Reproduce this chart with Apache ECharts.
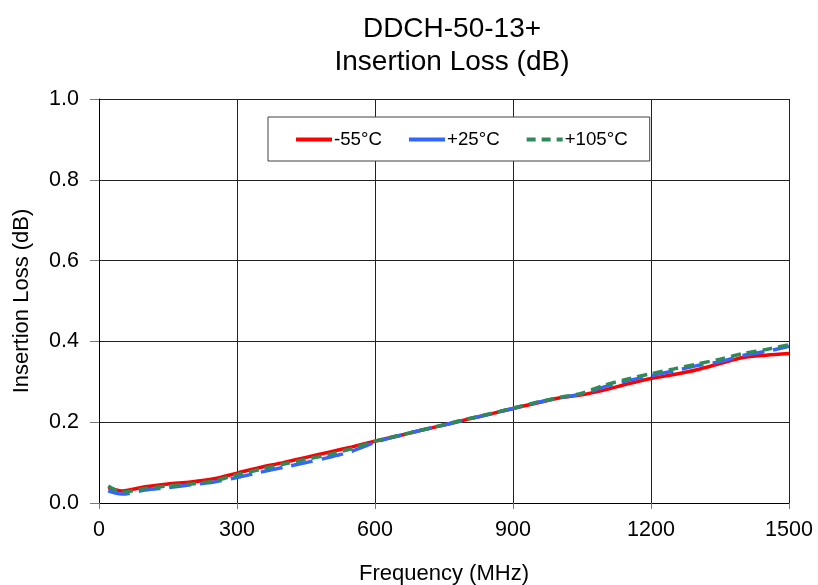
<!DOCTYPE html>
<html><head><meta charset="utf-8">
<script src="https://cdn.jsdelivr.net/npm/echarts@6/dist/echarts.min.js"></script>
<style>html,body{margin:0;padding:0;background:#fff}#c{width:818px;height:585px}</style>
</head><body><div id="c"></div>
<script>
const freq = [20,50,100,150,200,250,300,350,400,450,500,550,600,650,700,750,800,850,900,950,1000,1050,1100,1150,1200,1250,1300,1350,1400,1450,1500];
const lossM55 = [0.038,0.030,0.040,0.047,0.052,0.060,0.074,0.088,0.100,0.113,0.126,0.139,0.153,0.166,0.180,0.193,0.207,0.220,0.234,0.247,0.260,0.268,0.280,0.295,0.308,0.318,0.330,0.345,0.360,0.366,0.370];
const lossP25 = [0.030,0.022,0.032,0.038,0.045,0.052,0.063,0.076,0.088,0.100,0.113,0.128,0.150,0.166,0.180,0.193,0.207,0.220,0.234,0.248,0.260,0.270,0.288,0.303,0.315,0.327,0.340,0.350,0.365,0.375,0.388];
const lossP105 = [0.042,0.027,0.036,0.042,0.047,0.055,0.070,0.083,0.096,0.108,0.120,0.135,0.153,0.167,0.180,0.194,0.208,0.221,0.235,0.249,0.261,0.272,0.292,0.307,0.320,0.332,0.344,0.356,0.370,0.380,0.392];
const seriesNames = ['-55°C','+25°C','+105°C'];
const titleLines = ['DDCH-50-13+','Insertion Loss (dB)'];

const pair = (ys) => freq.map((f,i)=>[f, ys[i]]);
const font = 'Liberation Sans, Arial, sans-serif';
const chart = echarts.init(document.getElementById('c'));
chart.setOption({
  animation:false,
  backgroundColor:'#fff',
  title:{text:titleLines.join('\n'), left:447, top:8, textAlign:'center',
    textStyle:{fontFamily:font, fontSize:28, fontWeight:'normal', color:'#000', lineHeight:33}},
  legend:{top:117, left:268, itemGap:25, padding:[13,22,12,26],
    backgroundColor:'#fff', borderColor:'#404040', borderWidth:1, itemWidth:36, itemHeight:14,
    itemStyle:{opacity:0}, lineStyle:{width:4},
    textStyle:{fontFamily:font, fontSize:18.7, color:'#000', padding:[0,0,0,-3]},
    data:[
      {name:seriesNames[0]},
      {name:seriesNames[1], lineStyle:{type:'solid', width:4}},
      {name:seriesNames[2], lineStyle:{type:[9,6], width:4}}
    ]},
  grid:{left:99, right:29, top:99, bottom:82, outerBoundsMode:'none', containLabel:false},
  xAxis:{type:'value', min:0, max:1500, interval:300,
    name:'Frequency (MHz)', nameLocation:'middle', nameGap:60,
    nameTextStyle:{fontFamily:font, fontSize:22, color:'#000'},
    axisLine:{show:true, lineStyle:{color:'#000', width:1}},
    axisTick:{show:true, length:6, lineStyle:{color:'#777'}},
    axisLabel:{fontFamily:font, fontSize:21.5, color:'#000', margin:16, formatter:v=>String(v)},
    splitLine:{show:true, lineStyle:{color:'#222', width:1}}},
  yAxis:{type:'value', min:0, max:1, interval:0.2,
    name:'Insertion Loss (dB)', nameLocation:'middle', nameGap:66,
    nameTextStyle:{fontFamily:font, fontSize:22, color:'#000'},
    axisLine:{show:true, lineStyle:{color:'#000', width:1}},
    axisTick:{show:true, length:9, lineStyle:{color:'#777'}},
    axisLabel:{fontFamily:font, fontSize:21.5, color:'#000', margin:20, formatter:v=>v.toFixed(1)},
    splitLine:{show:true, lineStyle:{color:'#222', width:1}}},
  series:[
    {name:seriesNames[0], type:'line', data:pair(lossM55), symbol:'none', smooth:0.3, z:3,
      lineStyle:{color:'#ff0000', width:3.5}, itemStyle:{color:'#ff0000'}},
    {name:seriesNames[1], type:'line', data:pair(lossP25), symbol:'none', smooth:0.3, z:4,
      lineStyle:{color:'#3366ff', width:3.5, type:[22,9]}, itemStyle:{color:'#3366ff'}},
    {name:seriesNames[2], type:'line', data:pair(lossP105), symbol:'none', smooth:0.3, z:5,
      lineStyle:{color:'#2e8b57', width:3.5, type:[10,6]}, itemStyle:{color:'#2e8b57'}}
  ]
});
</script></body></html>
